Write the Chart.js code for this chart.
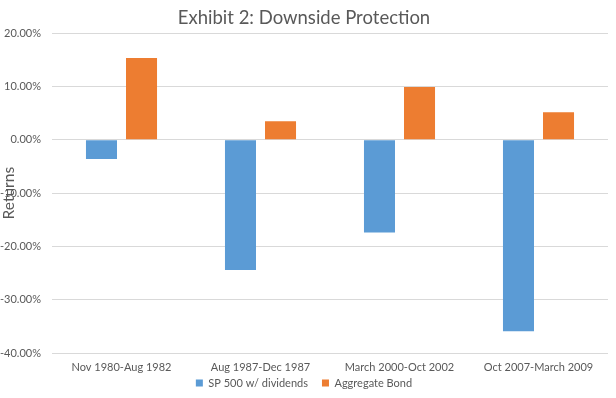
<!DOCTYPE html>
<html>
<head>
    <title>Exhibit 2: Downside Protection</title>
    <script src="https://cdn.jsdelivr.net/npm/chart.js"></script>
    <style>
        html, body { margin: 0; padding: 0; background: #fff; }
        #wrap { width: 616px; height: 398px; }
    </style>
</head>
<body>
    <div id="wrap"><canvas id="grafico"></canvas></div>
    <script>
        // Datos (rentabilidades en %)
        const periodos = ['Nov 1980-Aug 1982', 'Aug 1987-Dec 1987', 'March 2000-Oct 2002', 'Oct 2007-March 2009'];
        const sp500 = [-3.6, -24.4, -17.4, -35.9];
        const bonos = [15.35, 3.5, 9.9, 5.2];
        const yTicks = [20, 10, 0, -10, -20, -30, -40];

        const gris = '#595959';
        const fuente = 'Lato, "Open Sans", sans-serif';

        new Chart(document.getElementById('grafico'), {
            type: 'bar',
            data: {
                labels: periodos,
                datasets: [{
                    label: 'SP 500 w/ dividends',
                    data: sp500,
                    backgroundColor: '#5b9bd5',
                    borderWidth: 0,
                    categoryPercentage: 0.576,
                    barPercentage: 0.775
                }, {
                    label: 'Aggregate Bond',
                    data: bonos,
                    backgroundColor: '#ed7d31',
                    borderWidth: 0,
                    categoryPercentage: 0.576,
                    barPercentage: 0.775
                }]
            },
            options: {
                responsive: true,
                maintainAspectRatio: false,
                animation: false,
                layout: { padding: { left: 0, right: 8, top: 0, bottom: -0.5 } },
                plugins: {
                    title: {
                        display: true,
                        text: 'Exhibit 2: Downside Protection',
                        color: gris,
                        font: { family: fuente, size: 18.5, weight: 'normal' },
                        padding: { top: 7, bottom: 4.1 }
                    },
                    legend: {
                        position: 'bottom',
                        labels: {
                            color: gris,
                            boxWidth: 7,
                            boxHeight: 7,
                            padding: 14,
                            font: { family: fuente, size: 11 }
                        }
                    },
                    tooltip: { enabled: false }
                },
                scales: {
                    x: {
                        // eje estrecho; mirror evita el recorte de las etiquetas
                        afterFit: (scale) => { scale.height = 10.5; },
                        grid: { display: false },
                        border: { display: false },
                        ticks: {
                            color: gris,
                            font: { family: fuente, size: 11 },
                            maxRotation: 0,
                            autoSkip: false,
                            mirror: true,
                            padding: -20.6
                        }
                    },
                    y: {
                        min: -40,
                        max: 20,
                        afterBuildTicks: (scale) => {
                            scale.ticks = yTicks.map(v => ({ value: v }));
                        },
                        afterFit: (scale) => { scale.width = 52; },
                        grid: { color: '#d9d9d9', drawTicks: false },
                        border: { display: false },
                        ticks: {
                            color: gris,
                            padding: 11,
                            font: { family: fuente, size: 11 },
                            callback: (v) => v.toFixed(2) + '%'
                        },
                        title: {
                            display: true,
                            text: 'Returns',
                            color: gris,
                            font: { family: fuente, size: 15.5 },
                            padding: { top: 0, bottom: 0 }
                        }
                    }
                }
            }
        });
    </script>
</body>
</html>
